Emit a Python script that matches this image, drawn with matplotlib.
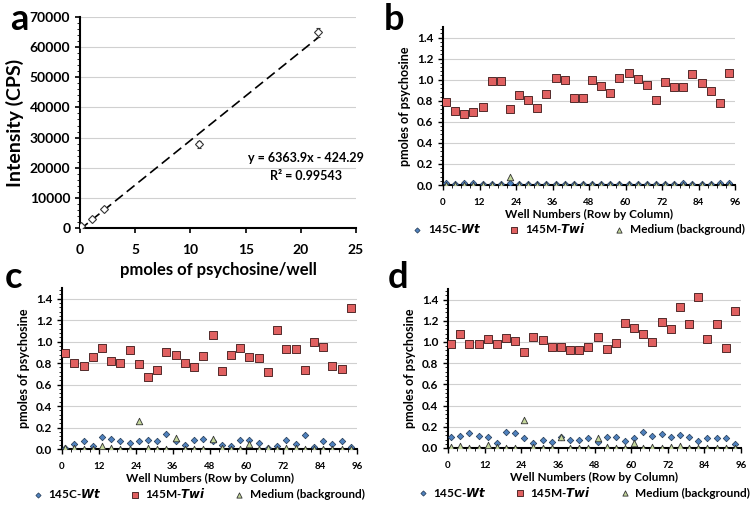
import numpy as np
import matplotlib.pyplot as plt
from matplotlib.ticker import MultipleLocator

plt.rcParams['font.family'] = ['Lato', 'DejaVu Sans']
plt.rcParams['font.weight'] = 'bold'

# panel a: standard curve
std_x = [0.0, 0.1, 1.08, 2.15, 10.8, 21.6]
std_y = [0, 500, 3000, 6300, 27800, 65000]
std_err = [0, 0, 200, 300, 1200, 1500]
eq_text = 'y = 6363.9x - 424.29'
r2_text = 'R² = 0.99543'

# panels b-d: well positions and values
wells = list(range(1, 96, 3))

b_twi = [0.79, 0.70, 0.67, 0.69, 0.74, 0.99, 0.99, 0.72, 0.85, 0.81, 0.73, 0.86,
         1.02, 1.00, 0.83, 0.83, 1.00, 0.94, 0.87, 1.02, 1.06, 1.01, 0.95, 0.81,
         0.98, 0.93, 0.93, 1.05, 0.97, 0.89, 0.78, 1.06]
b_wt = [0.02, 0.01, 0.02, 0.02, 0.01, 0.01, 0.01, 0.02, 0.01, 0.01, 0.01, 0.01,
        0.01, 0.01, 0.01, 0.01, 0.01, 0.01, 0.01, 0.01, 0.01, 0.01, 0.01, 0.01,
        0.01, 0.01, 0.02, 0.01, 0.01, 0.01, 0.02, 0.02]
b_med = [0.0, 0.0, 0.0, 0.0, 0.0, 0.0, 0.0, 0.08, 0.0, 0.0, 0.0, 0.0,
         0.0, 0.0, 0.0, 0.0, 0.0, 0.0, 0.0, 0.0, 0.0, 0.0, 0.0, 0.0,
         0.0, 0.0, 0.0, 0.0, 0.0, 0.0, 0.0, 0.0]

c_twi = [0.89, 0.80, 0.77, 0.86, 0.94, 0.82, 0.80, 0.92, 0.79, 0.67, 0.74, 0.90,
         0.88, 0.80, 0.76, 0.87, 1.06, 0.73, 0.88, 0.94, 0.86, 0.85, 0.72, 1.11,
         0.93, 0.93, 0.74, 1.00, 0.95, 0.77, 0.75, 1.31]
c_wt = [0.01, 0.05, 0.07, 0.03, 0.11, 0.09, 0.07, 0.06, 0.07, 0.08, 0.07, 0.14,
        0.07, 0.04, 0.08, 0.09, 0.07, 0.04, 0.03, 0.08, 0.08, 0.06, 0.01, 0.03,
        0.08, 0.05, 0.13, 0.02, 0.07, 0.05, 0.07, 0.02]
c_med = [0.01, 0.01, 0.0, 0.0, 0.03, 0.01, 0.0, 0.0, 0.26, 0.01, 0.0, 0.0,
         0.10, 0.0, 0.0, 0.0, 0.09, 0.01, 0.0, 0.0, 0.05, 0.0, 0.01, 0.0,
         0.01, 0.01, 0.0, 0.0, 0.0, 0.0, 0.0, 0.0]

d_twi = [0.98, 1.08, 0.98, 0.98, 1.03, 0.98, 1.04, 1.01, 0.91, 1.05, 1.02, 0.95,
         0.95, 0.92, 0.92, 0.95, 1.05, 0.93, 0.99, 1.18, 1.13, 1.08, 1.00, 1.19,
         1.12, 1.33, 1.17, 1.42, 1.03, 1.17, 0.94, 1.29]
d_wt = [0.10, 0.11, 0.14, 0.11, 0.10, 0.05, 0.15, 0.14, 0.09, 0.05, 0.08, 0.06,
        0.10, 0.08, 0.08, 0.09, 0.06, 0.10, 0.10, 0.07, 0.09, 0.15, 0.11, 0.13,
        0.10, 0.12, 0.10, 0.07, 0.09, 0.09, 0.09, 0.04]
d_med = [0.01, 0.02, 0.0, 0.0, 0.03, 0.01, 0.0, 0.0, 0.26, 0.01, 0.0, 0.0,
         0.10, 0.0, 0.0, 0.0, 0.09, 0.01, 0.0, 0.0, 0.05, 0.0, 0.01, 0.0,
         0.01, 0.02, 0.0, 0.0, 0.0, 0.0, 0.0, 0.0]

W, H = 751, 505
fig = plt.figure(figsize=(W / 100, H / 100), dpi=100)


def px_axes(left, top, right, bottom):
    return fig.add_axes([left / W, 1 - bottom / H, (right - left) / W, (bottom - top) / H])


def style(ax):
    for s in ['top', 'right']:
        ax.spines[s].set_visible(False)
    ax.spines['left'].set_linewidth(1.5)
    ax.spines['bottom'].set_linewidth(1.5)
    ax.yaxis.grid(True, color='#d0d0d0', lw=0.8)
    ax.set_axisbelow(True)


# ---- panel a
ax = px_axes(80, 17, 356, 228)
style(ax)
ax.errorbar(std_x, std_y, yerr=std_err, fmt='D', ms=4.5, mfc='white', mec='#333333',
            mew=0.8, ecolor='#333333', elinewidth=0.8, capsize=1.5, zorder=3)
# linear trendline through the standards
k, b0 = np.polyfit(std_x, std_y, 1)
fx = np.array([0, max(std_x)])
ax.plot(fx, k * fx + b0, ls=(0, (6, 3)), color='black', lw=1.2, zorder=2)
ax.set_xlim(0, 25)
ax.set_ylim(0, 70000)
ax.xaxis.set_major_locator(MultipleLocator(5))
ax.yaxis.set_major_locator(MultipleLocator(10000))
ax.yaxis.set_minor_locator(MultipleLocator(2000))
ax.tick_params(axis='both', labelsize=10, width=1.2)
ax.tick_params(axis='x', pad=8)
ax.set_ylabel('Intensity (CPS)', fontsize=14, fontweight='bold')
ax.set_xlabel('pmoles of psychosine/well', fontsize=12, fontweight='bold', labelpad=4)
ax.text(20.5, 22000, eq_text, ha='center', fontsize=9, fontweight='bold')
ax.text(20.5, 16000, r2_text, ha='center', fontsize=9, fontweight='bold')
fig.text(10 / W, 1 - 30 / H, 'a', fontsize=26, fontweight='bold')


def well_panel(box, wt, twi, med, label, lab_xy):
    ax = px_axes(*box)
    style(ax)
    h1 = ax.scatter(wells, wt, marker='D', s=11, c='#4f81bd', edgecolors='#1f3550',
                    linewidths=0.5, zorder=4, label='145C-$\\mathbfit{Wt}$')
    h2 = ax.scatter(wells, twi, marker='s', s=30, c='#e06060', edgecolors='#3a1515',
                    linewidths=0.6, zorder=3, label='145M-$\\mathbfit{Twi}$')
    h3 = ax.scatter(wells, med, marker='^', s=22, c='#c4d79b', edgecolors='#333333',
                    linewidths=0.6, zorder=5, label='Medium (background)')
    ax.set_xlim(0, 96)
    ax.set_ylim(0, 1.5)
    ax.xaxis.set_major_locator(MultipleLocator(12))
    ax.xaxis.set_minor_locator(MultipleLocator(3))
    ax.yaxis.set_minor_locator(MultipleLocator(0.04))
    ax.set_yticks(np.arange(0, 1.41, 0.2))
    ax.set_yticklabels([f'{v:.1f}' for v in np.arange(0, 1.41, 0.2)])
    ax.tick_params(axis='x', labelsize=7, width=1.0, pad=6)
    ax.tick_params(axis='y', labelsize=8.5, width=1.0)
    ax.set_xlabel('Well Numbers (Row by Column)', fontsize=8.5, fontweight='bold', labelpad=1)
    ax.set_ylabel('pmoles of psychosine', fontsize=9, fontweight='bold')
    ax.legend(handles=[h1, h2, h3], loc='upper center', bbox_to_anchor=(0.46, -0.2),
              ncol=3, frameon=False, fontsize=8.5, columnspacing=2.2, handletextpad=0.3,
              handlelength=1.2, markerscale=0.8, borderaxespad=0)
    fig.text(lab_xy[0] / W, 1 - lab_xy[1] / H, label, fontsize=26, fontweight='bold')


well_panel((443, 27, 735, 185), b_wt, b_twi, b_med, 'b', (384, 30))
well_panel((62, 288, 357, 449), c_wt, c_twi, c_med, 'c', (5, 288))
well_panel((448, 289, 741, 448), d_wt, d_twi, d_med, 'd', (388, 288))

fig.savefig('out.png', dpi=100)
